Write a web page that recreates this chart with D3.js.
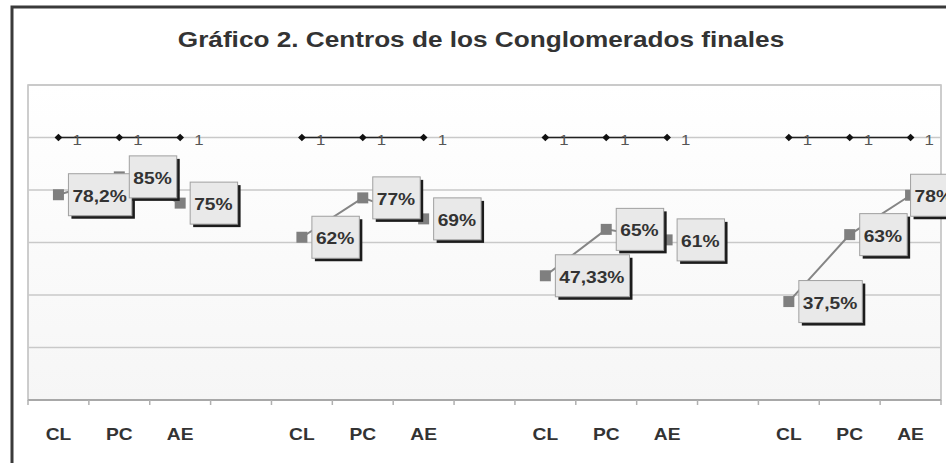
<!DOCTYPE html>
<html>
<head>
<meta charset="utf-8">
<script src="https://cdn.jsdelivr.net/npm/d3@7"></script>
<style>
  body { margin: 0; background: #fff; }
  svg { display: block; }
</style>
</head>
<body>
<div id="chart"></div>
<script>
// data
var categories = ["CL", "PC", "AE", "", "CL", "PC", "AE", "", "CL", "PC", "AE", "", "CL", "PC", "AE"];
var seriesBase = [1, 1, 1, null, 1, 1, 1, null, 1, 1, 1, null, 1, 1, 1];
var seriesCenters = [0.782, 0.85, 0.75, null, 0.62, 0.77, 0.69, null, 0.4733, 0.65, 0.61, null, 0.375, 0.63, 0.78];
var yTicks = [0, 0.2, 0.4, 0.6, 0.8, 1, 1.2];
var title = "Gráfico 2. Centros de los Conglomerados finales";

var width = 946, height = 463;
var plot = {left: 28, right: 941, top: 85, bottom: 400};
var frameRight = 964;   // chart frame runs past the right edge of the picture
var sx = 1.2;           // the original is stretched sideways

var es = d3.formatLocale({decimal: ",", thousands: ".", grouping: [3], currency: ["", " €"]});
var pct = es.format(".2~%");

var svg = d3.select("#chart").append("svg")
  .attr("width", width)
  .attr("height", height)
  .style("font-family", "Liberation Sans, Arial, sans-serif");

var defs = svg.append("defs");
var grad = defs.append("linearGradient")
  .attr("id", "bg").attr("x1", 0).attr("y1", 0).attr("x2", 0).attr("y2", 1);
grad.append("stop").attr("offset", "0%").attr("stop-color", "#ffffff");
grad.append("stop").attr("offset", "100%").attr("stop-color", "#f6f6f6");

var x = d3.scaleBand()
  .domain(d3.range(categories.length))
  .range([plot.left, plot.right]);

var y = d3.scaleLinear()
  .domain([0, 1.2])
  .range([plot.bottom, plot.top]);

function cx(i) { return x(i) + x.bandwidth() / 2; }

// outer chart frame
svg.append("rect")
  .attr("x", 12).attr("y", 7)
  .attr("width", frameRight - 12).attr("height", height + 20)
  .attr("fill", "#fff")
  .attr("stroke", "#3a3a3a")
  .attr("stroke-width", 3);

// title
svg.append("g")
  .attr("transform", "translate(481,47) scale(1.19,1)")
  .append("text")
  .attr("text-anchor", "middle")
  .style("font-size", "22px")
  .style("font-weight", "bold")
  .style("fill", "#333")
  .text(title);

// plot area
svg.append("rect")
  .attr("x", plot.left).attr("y", plot.top)
  .attr("width", plot.right - plot.left).attr("height", plot.bottom - plot.top)
  .attr("fill", "url(#bg)")
  .attr("stroke", "#bdbdbd")
  .attr("stroke-width", 1.5);

svg.append("g")
  .selectAll("line")
  .data(yTicks)
  .enter().append("line")
  .attr("x1", plot.left).attr("x2", plot.right)
  .attr("y1", d => y(d)).attr("y2", d => y(d))
  .attr("stroke", "#c9c9c9")
  .attr("stroke-width", 1.5);

// x axis: line, boundary ticks, labels
svg.append("line")
  .attr("x1", plot.left).attr("x2", plot.right)
  .attr("y1", y(0)).attr("y2", y(0))
  .attr("stroke", "#a8a8a8").attr("stroke-width", 2);

svg.append("g")
  .selectAll("line")
  .data(d3.range(categories.length + 1))
  .enter().append("line")
  .attr("x1", d => plot.left + d * x.step()).attr("x2", d => plot.left + d * x.step())
  .attr("y1", y(0)).attr("y2", y(0) + 5)
  .attr("stroke", "#b0b0b0").attr("stroke-width", 1.5);

svg.append("g")
  .selectAll("g")
  .data(d3.range(categories.length))
  .enter().append("g")
  .attr("transform", d => "translate(" + cx(d) + "," + (y(0) + 40) + ") scale(" + sx + ",1)")
  .append("text")
  .attr("text-anchor", "middle")
  .style("font-size", "16px")
  .style("font-weight", "bold")
  .style("fill", "#333")
  .text(d => categories[d]);

// series 1: the value 1 line with diamonds
var line = d3.line()
  .defined(d => d.v != null)
  .x(d => cx(d.i))
  .y(d => y(d.v));

var base = seriesBase.map((v, i) => ({i: i, v: v}));
var centers = seriesCenters.map((v, i) => ({i: i, v: v}));

svg.append("path")
  .datum(base)
  .attr("d", line)
  .attr("fill", "none")
  .attr("stroke", "#222")
  .attr("stroke-width", 1.5);

svg.append("g")
  .selectAll("path")
  .data(base.filter(d => d.v != null))
  .enter().append("path")
  .attr("d", d3.symbol().type(d3.symbolSquare).size(30))
  .attr("transform", d => "translate(" + cx(d.i) + "," + y(d.v) + ") rotate(45)")
  .attr("fill", "#111");

svg.append("g")
  .selectAll("g")
  .data(base.filter(d => d.v != null))
  .enter().append("g")
  .attr("transform", d => "translate(" + (cx(d.i) + 14) + "," + (y(d.v) + 7) + ") scale(" + sx + ",1)")
  .append("text")
  .style("font-size", "14px")
  .style("fill", "#555")
  .text(d => d.v);

// series 2: cluster centres
svg.append("path")
  .datum(centers)
  .attr("d", line)
  .attr("fill", "none")
  .attr("stroke", "#858585")
  .attr("stroke-width", 2);

svg.append("g")
  .selectAll("path")
  .data(centers.filter(d => d.v != null))
  .enter().append("path")
  .attr("d", d3.symbol().type(d3.symbolSquare).size(121))
  .attr("transform", d => "translate(" + cx(d.i) + "," + y(d.v) + ")")
  .attr("fill", "#7f7f7f");

// data labels in shadowed boxes, drawn in order so later ones sit on top
var boxH = 42;
centers.filter(d => d.v != null).forEach(function(d) {
  var g = svg.append("g");
  var shadow = g.append("rect");
  var box = g.append("rect");
  var t = g.append("text")
    .style("font-size", "16px")
    .style("font-weight", "bold")
    .style("fill", "#333")
    .text(pct(d.v));
  var tw = t.node().getComputedTextLength() * sx;
  var bw = tw + 9;
  var bx = cx(d.i) + 10;
  if (bx + bw + 3 > frameRight - 3) bx = frameRight - 3 - bw - 3;
  var by = y(d.v) - boxH / 2;
  shadow.attr("x", bx + 3).attr("y", by + 3).attr("width", bw).attr("height", boxH)
    .attr("fill", "#1c1c1c");
  box.attr("x", bx).attr("y", by).attr("width", bw).attr("height", boxH)
    .attr("fill", "#e9e9e9").attr("stroke", "#a0a0a0").attr("stroke-width", 1);
  t.attr("transform", "translate(" + (bx + 4) + "," + (y(d.v) + 7) + ") scale(" + sx + ",1)");
});
</script>
</body>
</html>
